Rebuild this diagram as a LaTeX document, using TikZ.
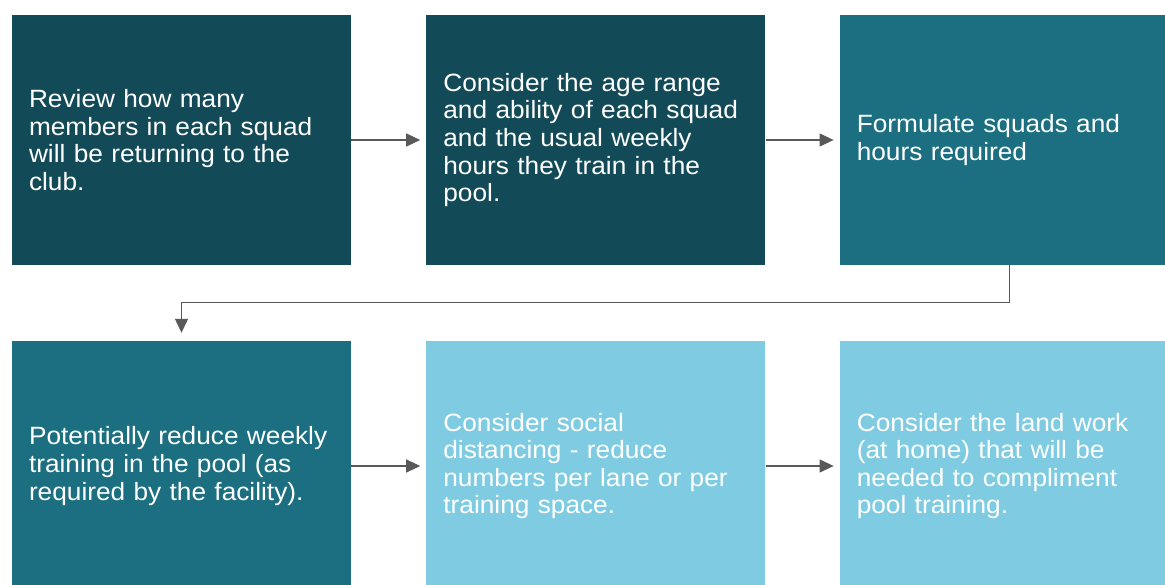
\documentclass[tikz,border=0pt]{standalone}
\usepackage{fontspec}
\setmainfont{Liberation Sans}[FakeStretch=1.05]
\usetikzlibrary{arrows.meta,positioning}

\definecolor{darkteal}{RGB}{18,75,87}
\definecolor{midteal}{RGB}{27,111,128}
\definecolor{lightblue}{RGB}{127,204,226}
\definecolor{arrowgray}{RGB}{89,89,89}

\tikzset{
  stepbox/.style={rectangle, minimum width=339pt, minimum height=250pt,
    text width=305pt, inner sep=0pt, align=left, text=white,
    font=\fontsize{25pt}{27.6pt}\selectfont},
  darkbox/.style={stepbox, fill=darkteal},
  midbox/.style={stepbox, fill=midteal},
  lightbox/.style={stepbox, fill=lightblue},
  flow/.style={draw=arrowgray, line width=1.2pt,
    -{Triangle[length=14pt,width=13pt]}, shorten >=6pt}
}

\begin{document}
\begin{tikzpicture}[x=1pt,y=-1pt]
\useasboundingbox (0,0) rectangle (1165,585);
\clip (0,0) rectangle (1165,585);
% top row
\node[darkbox] (review) at (181.5,140) {Review how many\\members in each squad\\will be returning to the\\club.};
\node[darkbox, right=75pt of review] (consider) {Consider the age range\\and ability of each squad\\and the usual weekly\\hours they train in the\\pool.};
\node[midbox, right=74pt of consider] (formulate) {Formulate squads and\\hours required};
% bottom row
\node[midbox] (reduce) at (181.5,466) {Potentially reduce weekly\\training in the pool (as\\required by the facility).};
\node[lightbox, right=75pt of reduce] (distance) {Consider social\\distancing - reduce\\numbers per lane or per\\training space.};
\node[lightbox, right=74pt of distance] (land) {Consider the land work\\(at home) that will be\\needed to compliment\\pool training.};
% connectors
\draw[flow] (review) -- (consider);
\draw[flow] (consider) -- (formulate);
\draw[flow, shorten >=8pt] (formulate.south) -- ++(0,37) -| (reduce.north);
\draw[flow] (reduce) -- (distance);
\draw[flow] (distance) -- (land);
\end{tikzpicture}
\end{document}
